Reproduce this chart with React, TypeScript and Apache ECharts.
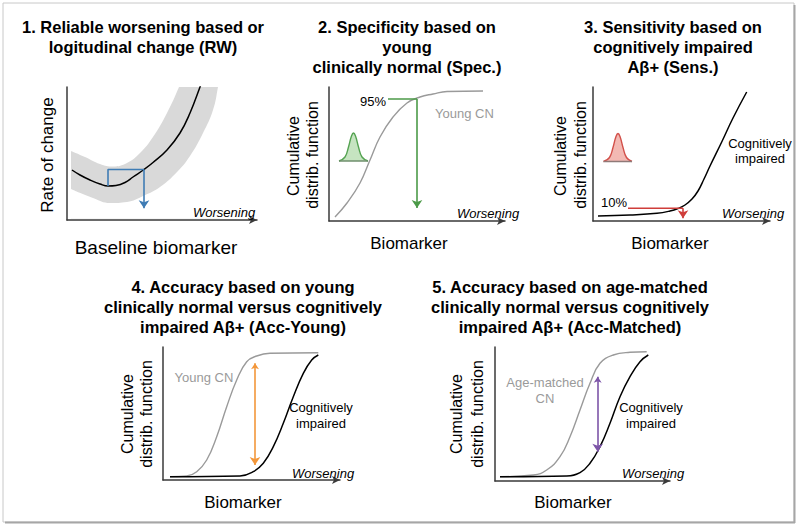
import React, { useEffect, useRef } from 'react';
import * as echarts from 'echarts';

const FONT = "'Liberation Sans', Arial, Helvetica, sans-serif";

// ---------- Panel 1: reliable worsening ----------
const rwCurve = [[5, 50], [13, 45], [23, 40], [33, 36], [41, 34], [49, 34.5], [58, 37.5], [66, 43], [77, 50.5], [86, 57.5], [100, 70], [113, 87], [123, 107], [133, 133], [136, 142]];
const rwBandUpper = [[4, 69], [18, 63], [33, 56], [46, 53.5], [60, 57], [73, 67], [86, 83], [100, 107], [112, 133], [117, 146], [153, 146]];
const rwBandLower = [[4, 31], [26, 22], [43, 17], [60, 18], [76, 24], [93, 33], [110, 48], [123, 64], [136, 87], [146, 110], [151, 133], [153, 146]];
const rwBox = [[41, 34], [41, 50.5], [77, 50.5]];
const rwArrow = [[77, 50.5], [77, 11.7]];

// ---------- Panel 2: specificity ----------
const specCurve = [[6, 4], [18, 18], [31, 38], [41, 61], [51, 84], [64, 104], [78, 118], [91, 124], [104, 127], [118, 129.5], [154, 130]];
const specBell = [[10, 60], [16, 64], [19.5, 74], [22.5, 85], [24.5, 88], [26.5, 85], [29.5, 74], [33, 64], [39, 60]];
const specBellBase = 60;
const specLine = [[59, 122], [88, 122]];
const specArrow = [[88, 122], [88, 13]];

// ---------- Panel 3: sensitivity ----------
const sensCurve = [[5, 5], [37, 6], [64, 7.7], [77, 10], [85, 12.5], [92, 16], [99, 22], [105, 30], [111, 42], [117, 55], [128.7, 79], [140, 103], [153.7, 129]];
const sensBell = [[10.5, 59.5], [16.5, 63.5], [20, 73.5], [23, 84.5], [25, 87.5], [27, 84.5], [30, 73.5], [33.5, 63.5], [39, 59.5]];
const sensBellBase = 59.5;
const sensLine = [[35, 12.7], [90, 12.7]];
const sensArrow = [[90, 12.7], [90, 2.7]];

// ---------- Panel 4: accuracy young ----------
const accYoungCN = [[7, 3.3], [23.7, 4], [33.7, 8.3], [43.7, 20], [53.7, 43.3], [63.7, 73.3], [73.7, 100], [83.7, 118.3], [93.7, 124], [107, 126.7], [155.3, 127.3]];
const accYoungCI = [[7, 3.3], [77, 4], [90.3, 8.3], [100.3, 16.7], [110.3, 33.3], [120.3, 56.7], [130.3, 83.3], [140.3, 106.7], [148.7, 120], [155.3, 125]];
const accYoungArrow = [[92, 116.7], [92, 15]];

// ---------- Panel 5: accuracy matched ----------
const accMatchedCN = [[5, 4.3], [38.3, 6], [51.7, 11], [65, 24.3], [75, 44.3], [85, 71], [95, 97.7], [105, 117.7], [118.3, 126], [135, 128.7], [151.7, 129.3]];
const accMatchedCI = [[5, 4.3], [71.7, 5], [85, 8.3], [95, 17.7], [105, 34.3], [115, 57.7], [125, 84.3], [135, 104.3], [145, 119.3], [153.3, 126]];
const accMatchedArrow = [[102.7, 104.3], [102.7, 29.3]];

// layout
const grids = [
  { left: 67, top: 87, width: 190, height: 133 },
  { left: 329, top: 87, width: 176, height: 134 },
  { left: 593, top: 87, width: 177, height: 134 },
  { left: 163, top: 347, width: 177, height: 133 },
  { left: 495, top: 347, width: 175, height: 134 },
];

const AXIS = '#3a3a3a';
const GRAY = '#9a9a9a';

function lineSeries(i: number, data: number[][], color: string, width: number, z = 3, extra: any = {}) {
  return {
    type: 'line', xAxisIndex: i, yAxisIndex: i, data, showSymbol: false, symbol: 'none',
    smooth: 0.45, lineStyle: { color, width }, z, silent: true, clip: true, ...extra,
  };
}

function arrowSeries(i: number, seg: number[][], color: string, both = false) {
  return {
    type: 'lines', coordinateSystem: 'cartesian2d', xAxisIndex: i, yAxisIndex: i, z: 5, silent: true,
    symbol: both ? ['arrow', 'arrow'] : ['none', 'arrow'], symbolSize: [6, 8],
    lineStyle: { color, width: 1.6, opacity: 1, curveness: 0 },
    data: [{ coords: seg }],
  };
}

function txt(text: string, x: number, y: number, o: any = {}) {
  return {
    type: 'text', x, y, silent: true, rotation: o.rotation || 0, z: 10,
    style: {
      text, fontFamily: FONT, fontSize: o.size || 16, fontWeight: o.bold ? 'bold' : 'normal',
      fontStyle: o.italic ? 'italic' : 'normal', fill: o.color || '#000',
      align: o.align || 'center', verticalAlign: 'middle',
    },
  };
}

export default function App() {
  const ref = useRef<HTMLDivElement>(null);
  useEffect(() => {
    if (!ref.current) return;
    const chart = echarts.init(ref.current, undefined, { renderer: 'svg' });
    const xAxis = grids.map((g, i) => ({
      gridIndex: i, type: 'value', min: 0, max: g.width,
      axisLine: { show: true, onZero: false, symbol: ['none', 'arrow'], symbolSize: [6, 8], lineStyle: { color: AXIS, width: 1.5 } },
      axisTick: { show: false }, axisLabel: { show: false }, splitLine: { show: false },
    }));
    const yAxis = grids.map((g, i) => ({
      gridIndex: i, type: 'value', min: 0, max: g.height,
      axisLine: { show: true, onZero: false, lineStyle: { color: AXIS, width: 1.5 } },
      axisTick: { show: false }, axisLabel: { show: false }, splitLine: { show: false },
    }));

    const series: any[] = [
      // panel 1
      lineSeries(0, rwBandUpper, '#d9d9d9', 0, 1, { lineStyle: { width: 0, opacity: 0 }, areaStyle: { color: '#d9d9d9', opacity: 1, origin: 1.5 } }),
      lineSeries(0, rwBandLower, '#ffffff', 0, 2, { lineStyle: { width: 0, opacity: 0 }, areaStyle: { color: '#ffffff', opacity: 1, origin: 1.5 } }),
      lineSeries(0, rwCurve, '#000', 1.5, 3),
      lineSeries(0, rwBox, '#3f7cb4', 1.6, 4, { smooth: false }),
      arrowSeries(0, rwArrow, '#3f7cb4'),
      // panel 2
      lineSeries(1, specCurve, GRAY, 1.4, 3),
      lineSeries(1, specBell, '#55a352', 1.4, 3, { areaStyle: { color: '#c6e4c1', opacity: 1, origin: specBellBase } }),
      lineSeries(1, [specBell[0], specBell[specBell.length - 1]], '#6f8f6c', 1.4, 3, { smooth: false }),
      lineSeries(1, specLine, '#4c9a48', 1.6, 4, { smooth: false }),
      arrowSeries(1, specArrow, '#4c9a48'),
      // panel 3
      lineSeries(2, sensCurve, '#000', 1.5, 3),
      lineSeries(2, sensBell, '#d2504a', 1.4, 3, { areaStyle: { color: '#f3b9b3', opacity: 1, origin: sensBellBase } }),
      lineSeries(2, [sensBell[0], sensBell[sensBell.length - 1]], '#8f7a78', 1.4, 3, { smooth: false }),
      lineSeries(2, sensLine, '#cf3d3a', 1.6, 4, { smooth: false }),
      arrowSeries(2, sensArrow, '#cf3d3a'),
      // panel 4
      lineSeries(3, accYoungCN, GRAY, 1.4, 3),
      lineSeries(3, accYoungCI, '#000', 1.5, 3),
      arrowSeries(3, accYoungArrow, '#f3973a', true),
      // panel 5
      lineSeries(4, accMatchedCN, GRAY, 1.4, 3),
      lineSeries(4, accMatchedCI, '#000', 1.5, 3),
      arrowSeries(4, accMatchedArrow, '#7d55a8', true),
    ];

    const T = 16.5;
    const graphic: any[] = [
      { type: 'rect', shape: { x: 3, y: 3, width: 791, height: 519 }, style: { fill: 'none', stroke: '#c8c8c8', lineWidth: 1 }, silent: true },
      { type: 'line', shape: { x1: 794.5, y1: 5, x2: 794.5, y2: 523 }, style: { stroke: '#a6a6a6', lineWidth: 2 }, silent: true },
      { type: 'line', shape: { x1: 5, y1: 522.5, x2: 795, y2: 522.5 }, style: { stroke: '#a6a6a6', lineWidth: 2 }, silent: true },
      // titles
      txt('1. Reliable worsening based or', 143, 27, { bold: true, size: T }),
      txt('logitudinal change (RW)', 143, 47, { bold: true, size: T }),
      txt('2. Specificity based on', 407, 27, { bold: true, size: T }),
      txt('young', 407, 47, { bold: true, size: T }),
      txt('clinically normal (Spec.)', 407, 67, { bold: true, size: T }),
      txt('3. Sensitivity based on', 673, 27, { bold: true, size: T }),
      txt('cognitively impaired', 673, 47, { bold: true, size: T }),
      txt('Aβ+ (Sens.)', 673, 67, { bold: true, size: T }),
      txt('4. Accuracy based on young', 243, 287, { bold: true, size: T }),
      txt('clinically normal versus cognitively', 243, 307, { bold: true, size: T }),
      txt('impaired Aβ+ (Acc-Young)', 243, 327, { bold: true, size: T }),
      txt('5. Accuracy based on age-matched', 570, 287, { bold: true, size: T }),
      txt('clinically normal versus cognitively', 570, 307, { bold: true, size: T }),
      txt('impaired Aβ+ (Acc-Matched)', 570, 327, { bold: true, size: T }),
      // y labels
      txt('Rate of change', 47, 155, { size: 17, rotation: Math.PI / 2 }),
      txt('Cumulative', 293, 156, { size: 16, rotation: Math.PI / 2 }),
      txt('distrib. function', 312, 155, { size: 16, rotation: Math.PI / 2 }),
      txt('Cumulative', 560, 156, { size: 16, rotation: Math.PI / 2 }),
      txt('distrib. function', 580, 155, { size: 16, rotation: Math.PI / 2 }),
      txt('Cumulative', 127, 414, { size: 16, rotation: Math.PI / 2 }),
      txt('distrib. function', 146, 414, { size: 16, rotation: Math.PI / 2 }),
      txt('Cumulative', 456, 414, { size: 16, rotation: Math.PI / 2 }),
      txt('distrib. function', 477, 414, { size: 16, rotation: Math.PI / 2 }),
      // x labels
      txt('Baseline biomarker', 156, 247, { size: 19 }),
      txt('Biomarker', 409, 243, { size: 17 }),
      txt('Biomarker', 670, 243, { size: 17 }),
      txt('Biomarker', 243, 502, { size: 17 }),
      txt('Biomarker', 573, 502, { size: 17 }),
      // worsening
      txt('Worsening', 193, 212, { size: 13, italic: true, align: 'left' }),
      txt('Worsening', 457, 213, { size: 13, italic: true, align: 'left' }),
      txt('Worsening', 722, 213, { size: 13, italic: true, align: 'left' }),
      txt('Worsening', 292, 473, { size: 13, italic: true, align: 'left' }),
      txt('Worsening', 622, 473, { size: 13, italic: true, align: 'left' }),
      // annotations
      txt('95%', 386, 101, { size: 13, align: 'right' }),
      txt('Young CN', 435, 113, { size: 13, align: 'left', color: GRAY }),
      txt('10%', 627, 202, { size: 13, align: 'right' }),
      txt('Cognitively', 760, 143, { size: 13 }),
      txt('impaired', 760, 158, { size: 13 }),
      txt('Young CN', 204, 377, { size: 13, color: GRAY }),
      txt('Cognitively', 321, 407, { size: 13 }),
      txt('impaired', 321, 423, { size: 13 }),
      txt('Age-matched', 545, 382, { size: 13, color: GRAY }),
      txt('CN', 545, 398, { size: 13, color: GRAY }),
      txt('Cognitively', 651, 407, { size: 13 }),
      txt('impaired', 651, 423, { size: 13 }),
    ];

    chart.setOption({
      animation: false,
      backgroundColor: '#ffffff',
      grid: grids.map((g) => ({ ...g, containLabel: false })),
      xAxis, yAxis, series, graphic,
    });
    return () => chart.dispose();
  }, []);
  return <div ref={ref} style={{ position: 'fixed', left: 0, top: 0, width: 800, height: 527, background: '#fff' }} />;
}
